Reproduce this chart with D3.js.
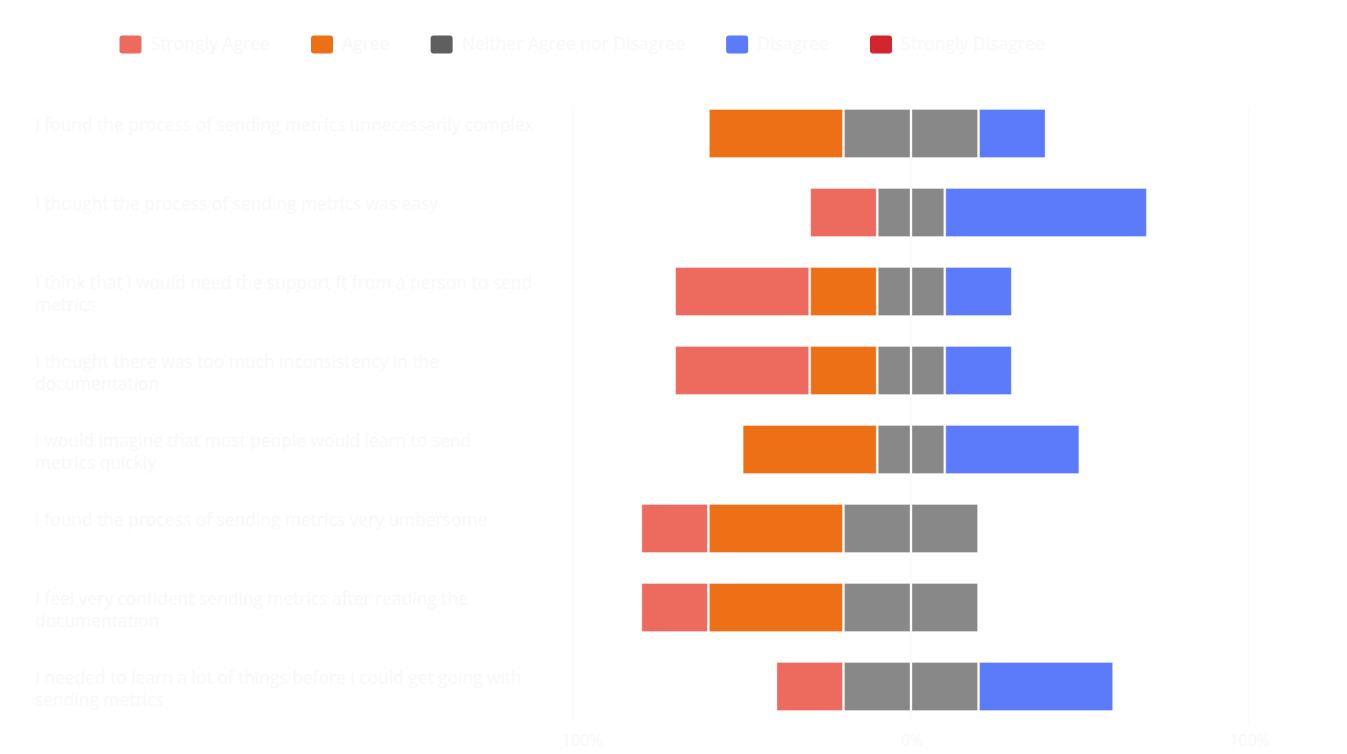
<!DOCTYPE html>
<html>
<head>
<meta charset="utf-8">
<script src="https://cdn.jsdelivr.net/npm/d3@7"></script>
<style>
  html, body { margin: 0; padding: 0; background: #ffffff; }
  svg { display: block; }
  text { font-family: "Open Sans", sans-serif; fill: #f8f8f8; }
</style>
</head>
<body>
<script>
// survey statements (line breaks as in the chart)
const questions = [
  "I found the process of sending metrics unnecessarily complex",
  "I thought the process of sending metrics was easy",
  "I think that i would need the support ft from a person to send\nmetrics",
  "I thought there was too much inconsistency in the\ndocumentation",
  "I would imagine that most people would learn to send\nmetrics quickly",
  "I found the process of sending metrics very umbersome",
  "I feel very confident sending metrics after reading the\ndocumentation",
  "I needed to learn a lot of things before i could get going with\nsending metrics"
]

const answers = ["Strongly Agree", "Agree", "Neither Agree nor Disagree", "Disagree", "Strongly Disagree"]

// percent of answers per question
const stronglyAgree    = [0, 20, 40, 40, 0, 20, 20, 20]
const agree            = [40, 0, 20, 20, 40, 40, 40, 0]
const neither          = [40, 20, 20, 20, 20, 40, 40, 40]
const disagree         = [20, 60, 20, 20, 40, 0, 0, 40]
const stronglyDisagree = [0, 0, 0, 0, 0, 0, 0, 0]

const ticks = [-100, 0, 100]
const tickLabels = ["100%", "0%", "100%"]

const barColors = ["#ed6a5e", "#ee7016", "#888888", "#5b7bfb", "#d1262e"]
const legendColors = ["#ed6a5e", "#ee7016", "#5f5f5f", "#5b7bfb", "#d1262e"]

const W = 1347, H = 754

const svg = d3.select('body').append('svg')
  .attr('width', W)
  .attr('height', H)

const x = d3.scaleLinear().domain([-100, 100]).range([573.3, 1248.7])
const y = d3.scaleBand().domain(d3.range(questions.length))
  .range([94, 726]).paddingInner(0.392).paddingOuter(0.196)

// grid lines
svg.append('g').selectAll('line')
  .data(ticks)
  .join('line')
    .attr('x1', d => x(d)).attr('x2', d => x(d))
    .attr('y1', 107).attr('y2', 723)
    .attr('stroke', '#f9f9f9')
    .attr('stroke-width', 1)

// tick labels
svg.append('g').selectAll('text')
  .data(ticks)
  .join('text')
    .attr('x', (d, i) => i === 0 ? x(d) + 9 : x(d) + 1)
    .attr('y', 742)
    .attr('text-anchor', 'middle')
    .attr('dominant-baseline', 'middle')
    .style('font-size', '16px')
    .text((d, i) => tickLabels[i])

// build diverging segments: agree side to the left of 0, disagree to the right, neutral split
const rows = questions.map((q, i) => {
  const half = neither[i] / 2
  const segs = []
  let left = -half
  segs.push({ k: 2, x0: -half, x1: 0 })
  segs.push({ k: 2, x0: 0, x1: half })
  segs.push({ k: 1, x0: left - agree[i], x1: left }); left -= agree[i]
  segs.push({ k: 0, x0: left - stronglyAgree[i], x1: left })
  let right = half
  segs.push({ k: 3, x0: right, x1: right + disagree[i] }); right += disagree[i]
  segs.push({ k: 4, x0: right, x1: right + stronglyDisagree[i] })
  return segs.filter(s => s.x1 - s.x0 > 0).map(s => ({ ...s, row: i }))
})

svg.append('g').selectAll('rect')
  .data(rows.flat())
  .join('rect')
    .attr('x', d => x(d.x0) + 1)
    .attr('width', d => x(d.x1) - x(d.x0) - 2)
    .attr('y', d => y(d.row))
    .attr('height', y.bandwidth())
    .attr('fill', d => barColors[d.k])
    .attr('stroke', 'rgba(255,255,255,0.35)')
    .attr('stroke-width', 1)

// category labels
const lab = svg.append('g').selectAll('text')
  .data(questions)
  .join('text')
    .attr('x', 35)
    .attr('y', (d, i) => y(i) + y.bandwidth() / 2 - 8)
    .attr('dominant-baseline', 'middle')
    .style('font-size', '17.4px')

lab.selectAll('tspan')
  .data(d => d.split('\n'))
  .join('tspan')
    .attr('x', 35)
    .attr('dy', (d, i) => i ? 22 : 0)
    .text(d => d)

// legend, laid out left to right
const legend = svg.append('g')
let lx = 119.5
answers.forEach((a, i) => {
  legend.append('rect')
    .attr('x', lx).attr('y', 35.5)
    .attr('width', 22).attr('height', 18)
    .attr('rx', 3)
    .attr('fill', legendColors[i])
  const t = legend.append('text')
    .attr('x', lx + 31).attr('y', 45)
    .attr('dominant-baseline', 'middle')
    .style('font-size', '17.6px')
    .text(a)
  lx += 31 + t.node().getComputedTextLength() + 41
})
</script>
</body>
</html>
